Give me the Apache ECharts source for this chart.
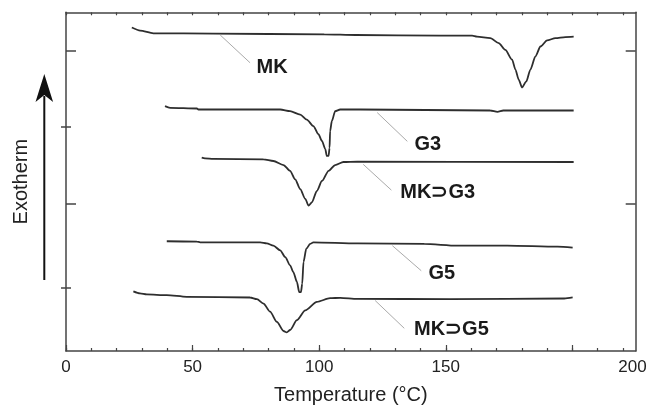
<!DOCTYPE html>
<html>
<head>
<meta charset="utf-8">
<script src="https://cdn.jsdelivr.net/npm/echarts@6/dist/echarts.min.js"></script>
<style>
html,body{margin:0;padding:0;background:#fff;}
#chart{width:654px;height:410px;}
</style>
</head>
<body>
<div id="chart"></div>
<script>
// ---- data (temperature °C, arbitrary heat-flow units) ----
const seriesNames = ['MK', 'G3', 'MK⊃G3', 'G5', 'MK⊃G5'];
const MK = [[26.0,95.5],[29.3,94.6],[34.5,93.8],[58.2,93.7],[102,93.5],[114.5,93.3],[147.8,93.1],[160.4,93.1],[162.3,92.8],[167.6,92.4],[170.9,90.9],[173.5,88.9],[176.2,86.0],[177.5,83.1],[178.8,80.1],[180.1,77.8],[181.8,79.6],[183.4,83.1],[185.4,87.0],[187.4,89.9],[190.0,91.7],[193.3,92.4],[197.2,92.7],[200.5,92.8]];
const G3 = [[39.1,72.3],[41.1,71.8],[51.7,71.6],[52.3,71.3],[84.6,71.3],[88.5,70.8],[92.5,69.8],[95.1,68.3],[97.7,66.4],[99.7,64.0],[101.1,62.0],[102.4,59.6],[103.0,57.6],[103.7,57.6],[104.1,60.0],[104.3,64.9],[105.0,67.9],[106.3,70.8],[108.3,71.3],[116.2,71.3],[167.6,71.0],[170.4,70.6],[172.7,71.0],[200.5,71.0]];
const MKG3 = [[53.6,57.1],[54.9,56.9],[58.2,56.7],[78.0,56.6],[81.9,56.1],[85.9,54.9],[88.5,53.2],[90.5,50.7],[92.5,47.8],[94.5,44.9],[95.8,42.9],[97.1,43.9],[99.1,47.3],[101.1,50.2],[103.7,53.2],[106.3,54.9],[109.6,55.8],[115.0,55.9],[200.5,55.8]];
const G5 = [[39.8,32.4],[51.7,32.3],[53.0,32.1],[76.7,32.1],[79.3,31.8],[81.9,31.1],[84.6,29.7],[86.6,27.7],[88.5,25.3],[89.8,23.3],[91.2,20.4],[92.1,17.4],[92.8,17.4],[93.3,19.9],[93.8,26.3],[94.9,30.2],[96.4,31.6],[97.7,32.1],[115.0,31.8],[141.5,31.6],[154.5,31.1],[174.3,31.1],[194.1,30.8],[200.1,30.5]];
const MKG5 = [[26.6,17.6],[29.2,17.0],[31.9,16.7],[39.8,16.5],[47.7,16.0],[72.7,15.8],[75.4,15.3],[78.0,14.0],[80.6,11.6],[83.3,8.6],[85.9,5.9],[87.2,5.5],[88.5,6.2],[91.2,9.1],[94.5,12.0],[99.1,14.5],[104.3,15.6],[108.3,15.7],[115.0,15.4],[151.8,15.3],[196.8,15.5],[200.1,15.8]];
const xMajorTicks = [0, 50, 100, 150, 200];
const xTickLabels = ['0', '50', '100', '150', '200'];
const yTicksLong = [88.7, 43.6];
const yTicksShort = [66.2, 18.7];

// ---- chart ----
const FONT = '"Liberation Sans", Arial, Helvetica, sans-serif';
const AX = '#444';
const xLabelAt = [0, 50, 100, 150, 223.7];
const xMinor = []; for (let v = 0; v <= 220; v += 10) xMinor.push(v);

const curves = [MK, G3, MKG3, G5, MKG5];
const notes = [
  {from:[60.9,93.3], to:[72.7,85.1], at:[81.4,83.6]},
  {from:[122.9,70.4], to:[134.8,61.9], at:[142.9,61.0]},
  {from:[117.4,55.1], to:[128.5,47.5], at:[146.8,46.9]},
  {from:[128.9,31.1], to:[140.3,23.7], at:[148.4,22.8]},
  {from:[122.1,14.9], to:[133.6,6.7], at:[152.2,6.4]}
];

const series = curves.map((d, i) => ({
  type: 'line', name: seriesNames[i], data: d, xAxisIndex: 0, yAxisIndex: 0,
  showSymbol: false, smooth: 0.25, smoothMonotone: 'x', animation: false, silent: true,
  lineStyle: {color: '#2e2e2e', width: 1.8},
  markLine: {
    silent: true, animation: false, symbol: ['none', 'none'],
    lineStyle: {color: '#aaa', width: 1, type: 'solid'},
    label: {show: false},
    data: [[{coord: notes[i].from}, {coord: notes[i].to}]]
  },
  markPoint: {
    silent: true, animation: false, symbol: 'rect', symbolSize: 1,
    itemStyle: {color: 'rgba(0,0,0,0)'},
    label: {show: true, position: 'inside', formatter: '{b}', color: '#1a1a1a',
            fontSize: 20, fontWeight: 'bold', fontFamily: FONT},
    data: [{name: seriesNames[i], coord: notes[i].at}]
  }
}));

const hideAll = {axisLine:{show:false}, axisLabel:{show:false}, splitLine:{show:false}};
const option = {
  backgroundColor: '#fff',
  animation: false,
  grid: {left: 66, right: 18.3, top: 12.3, bottom: 57.3},
  xAxis: [
    {type:'value', min:0, max:225, position:'bottom',
     axisLine:{show:true, onZero:false, lineStyle:{color:AX, width:1.5}},
     axisTick:{show:true, inside:true, length:3, customValues: xMinor, lineStyle:{color:AX, width:1.2}},
     axisLabel:{show:true, customValues: xLabelAt, margin: 8, color:'#222', fontSize:17, fontFamily:FONT,
       formatter: function (v) { const i = xLabelAt.findIndex(p => Math.abs(p - v) < 0.01); return i >= 0 ? xTickLabels[i] : ''; }},
     splitLine:{show:false},
     name:'Temperature (°C)', nameLocation:'middle', nameGap:34,
     nameTextStyle:{color:'#222', fontSize:20, fontFamily:FONT}},
    {type:'value', min:0, max:225, position:'bottom', ...hideAll,
     axisTick:{show:true, inside:true, length:6, customValues: xMajorTicks, lineStyle:{color:AX, width:1.2}}},
    {type:'value', min:0, max:225, position:'top',
     axisLine:{show:true, onZero:false, lineStyle:{color:AX, width:1.5}},
     axisTick:{show:true, inside:true, length:3, customValues: xMinor, lineStyle:{color:AX, width:1.2}},
     axisLabel:{show:false}, splitLine:{show:false}}
  ],
  yAxis: [
    {type:'value', min:0, max:100, position:'left',
     axisLine:{show:true, onZero:false, lineStyle:{color:AX, width:1.5}},
     axisTick:{show:true, inside:true, length:10, customValues: yTicksLong, lineStyle:{color:AX, width:1.5}},
     axisLabel:{show:false}, splitLine:{show:false},
     name:'Exotherm', nameLocation:'middle', nameRotate:90, nameGap:35,
     nameTextStyle:{color:'#222', fontSize:20, fontFamily:FONT}},
    {type:'value', min:0, max:100, position:'left', ...hideAll,
     axisTick:{show:true, inside:true, length:5, customValues: yTicksShort, lineStyle:{color:AX, width:1.5}}},
    {type:'value', min:0, max:100, position:'right',
     axisLine:{show:true, onZero:false, lineStyle:{color:AX, width:1.5}},
     axisTick:{show:true, inside:true, length:10, customValues: yTicksLong, lineStyle:{color:AX, width:1.5}},
     axisLabel:{show:false}, splitLine:{show:false}},
    {type:'value', min:0, max:100, position:'right', ...hideAll,
     axisTick:{show:true, inside:true, length:5, customValues: yTicksShort, lineStyle:{color:AX, width:1.5}}}
  ],
  graphic: [
    {type:'line', silent:true, shape:{x1:44.3, y1:280, x2:44.3, y2:96}, style:{stroke:'#111', lineWidth:2}},
    {type:'polygon', silent:true, shape:{points:[[44.3,74],[35.5,102],[44.3,95],[53.1,102]]}, style:{fill:'#111'}}
  ],
  series: series
};
const chart = echarts.init(document.getElementById('chart'), null, {renderer:'canvas'});
chart.setOption(option);
</script>
</body>
</html>
